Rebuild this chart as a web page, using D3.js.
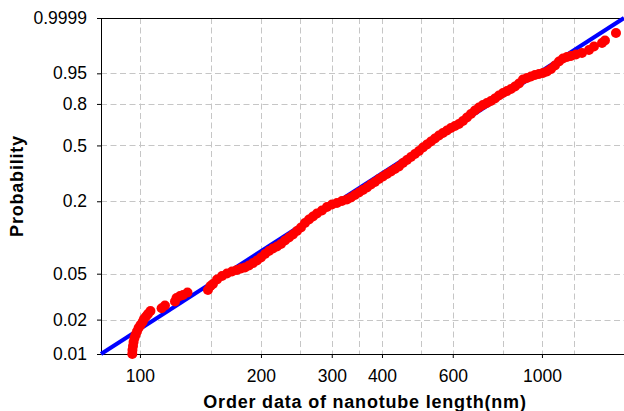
<!DOCTYPE html>
<html>
<head>
<meta charset="utf-8">
<script src="https://cdn.jsdelivr.net/npm/d3@7"></script>
<style>
    body { margin: 0; background: #fff; }
    text { font-family: "Liberation Sans", Arial, Helvetica, sans-serif; }
</style>
</head>
<body>
<svg id="svg-chart"></svg>
<script>
// 数据：长度(nm) 与 累积概率
var lengths = [
    95.7, 95.8, 96.1, 96.4, 96.9, 97.5, 98.3, 99.2, 100.3, 101.5, 102.3, 103.5, 104.7, 106.2,
    113.2, 115.4, 122.2, 123.3, 125.8, 128.0, 131.3, 147.6, 149.8,
    151.9, 155.5, 160.0, 164.6, 169.4, 174.3, 178.4, 182.5, 186.7, 191.1,
    195.5, 200.0, 204.7, 209.4, 214.2, 219.2, 224.3, 229.5, 234.8, 240.2,
    245.8, 251.5, 257.3, 263.3, 269.4, 275.6, 283.6, 291.9, 300.4, 309.1,
    318.1, 327.3, 334.9, 342.6, 350.6, 358.7, 367.0, 375.5, 384.2, 393.1,
    402.2, 411.5, 421.1, 430.8, 440.8, 451.0, 461.5, 472.2, 483.1, 494.3,
    505.8, 517.5, 529.5, 541.7, 554.3, 567.1, 580.3, 593.7, 607.5, 621.5,
    635.9, 650.7, 665.7, 681.2, 696.9, 713.1, 729.6, 746.5, 763.8, 781.5,
    800.0, 818.6, 837.5, 856.9, 876.8, 897.1, 917.9, 939.1, 960.9, 983.1,
    1005.9, 1029.2, 1053.1, 1077.5, 1102.4, 1128.0, 1154.1, 1180.9,
    1215.2, 1257.7, 1309.2, 1347.3, 1410.5, 1434.9, 1528.1
]
var probs = [
    0.0100, 0.01084, 0.01175, 0.01274, 0.01381, 0.01467, 0.01574, 0.01689, 0.01794, 0.01906, 0.02025, 0.02129, 0.02238, 0.02377,
    0.02509, 0.02654, 0.02875, 0.03084, 0.03210, 0.03274, 0.03441, 0.03618, 0.03918,
    0.04076, 0.04457, 0.04778, 0.05020, 0.05222, 0.05380, 0.05541, 0.05651, 0.05879, 0.06175,
    0.06486, 0.06879, 0.07366, 0.07810, 0.08199, 0.08524, 0.08947, 0.09574, 0.10144, 0.10744,
    0.11489, 0.12281, 0.13373, 0.14284, 0.15110, 0.15979, 0.16892, 0.18017, 0.18863, 0.19388,
    0.20104, 0.20650, 0.21405, 0.22386, 0.23409, 0.24459, 0.25554, 0.26919, 0.28106, 0.29583,
    0.30858, 0.32171, 0.33529, 0.34923, 0.36367, 0.38447, 0.40294, 0.42197, 0.44151, 0.46156,
    0.48555, 0.50660, 0.52801, 0.54975, 0.57175, 0.59024, 0.60884, 0.62750, 0.64243, 0.65735,
    0.67964, 0.70539, 0.73075, 0.75553, 0.77623, 0.79303, 0.80610, 0.81885, 0.83425, 0.85193,
    0.86595, 0.87666, 0.88689, 0.89903, 0.91255, 0.92885, 0.93442, 0.93972, 0.94475, 0.94793,
    0.95099, 0.95536, 0.96203, 0.97016, 0.97783, 0.98254, 0.98459, 0.98586,
    0.98760, 0.98917, 0.99186, 0.99429, 0.99610, 0.99707, 0.99888
]
// 拟合直线两端
var fit_length = [80, 1600]
var fit_prob = [0.01, 0.9999]
// 刻度
var x_ticks = [100, 200, 300, 400, 600, 1000]
var x_grid = [100, 150, 200, 250, 300, 350, 400, 500, 600, 800, 1000, 1200]
var p_ticks = [0.01, 0.02, 0.05, 0.2, 0.5, 0.8, 0.95, 0.9999]
var p_labels = ["0.01", "0.02", "0.05", "0.2", "0.5", "0.8", "0.95", "0.9999"]
var p_grid = [0.02, 0.05, 0.2, 0.5, 0.8, 0.95]

var width = 624,
    height = 411
var plot_left = 101, plot_right = 624, plot_top = 18, plot_bottom = 354

var svg_chart = d3.select("#svg-chart")
    .attr("width", width)
    .attr("height", height)

// Weibull 概率变换
function wbl(p) {
    return Math.log(-Math.log(1 - p))
}

var x = d3.scaleLog().domain([80, 1600]).range([plot_left, plot_right])
var y = d3.scaleLinear().domain([wbl(0.01), wbl(0.9999)]).range([plot_bottom, plot_top])

// 网格
var grid = svg_chart.append("g")
    .attr("stroke", "#c6c6c6")
    .attr("stroke-width", 1)
    .attr("stroke-dasharray", "6,3.5")
grid.selectAll(".vx")
    .data(x_grid)
    .enter().append("line")
    .attr("class", "vx")
    .attr("x1", function (d) { return Math.round(x(d)) + 0.5 })
    .attr("x2", function (d) { return Math.round(x(d)) + 0.5 })
    .attr("y1", plot_top)
    .attr("y2", plot_bottom)
grid.selectAll(".hy")
    .data(p_grid)
    .enter().append("line")
    .attr("class", "hy")
    .attr("x1", plot_left)
    .attr("x2", plot_right)
    .attr("y1", function (d) { return Math.round(y(wbl(d))) + 0.5 })
    .attr("y2", function (d) { return Math.round(y(wbl(d))) + 0.5 })

// 坐标轴
svg_chart.append("g")
    .attr("transform", "translate(0," + plot_bottom + ")")
    .call(d3.axisBottom(x)
        .tickValues(x_ticks)
        .tickFormat(d3.format("d"))
        .tickSize(4)
        .tickSizeOuter(0)
        .tickPadding(12))
svg_chart.append("g")
    .attr("transform", "translate(" + plot_left + ",0)")
    .call(d3.axisLeft(y)
        .tickValues(p_ticks.map(wbl))
        .tickFormat(function (d, i) { return p_labels[i] })
        .tickSize(4)
        .tickSizeOuter(0)
        .tickPadding(10))
svg_chart.selectAll(".tick text")
    .attr("font-size", 17.5)
    .attr("font-family", "Liberation Sans, Arial, sans-serif")
    .attr("fill", "#000")
svg_chart.append("line")
    .attr("x1", plot_left)
    .attr("x2", plot_right)
    .attr("y1", plot_top + 0.5)
    .attr("y2", plot_top + 0.5)
    .attr("stroke", "#000")

// 拟合线
svg_chart.append("path")
    .datum(d3.range(fit_length.length))
    .attr("d", d3.line()
        .x(function (i) { return x(fit_length[i]) })
        .y(function (i) { return y(wbl(fit_prob[i])) }))
    .attr("stroke", "#0000ff")
    .attr("stroke-width", 4)
    .attr("fill", "none")

// 数据点
svg_chart.append("g")
    .selectAll("circle")
    .data(d3.range(lengths.length))
    .enter().append("circle")
    .attr("cx", function (i) { return x(lengths[i]) })
    .attr("cy", function (i) { return y(wbl(probs[i])) })
    .attr("r", 5)
    .attr("fill", "#ff0000")

// 标题
svg_chart.append("text")
    .attr("x", 365)
    .attr("y", 408)
    .attr("text-anchor", "middle")
    .attr("font-size", 18)
    .attr("font-weight", "bold")
    .attr("letter-spacing", 0.8)
    .text("Order data of nanotube length(nm)")
svg_chart.append("text")
    .attr("transform", "translate(23,186) rotate(-90)")
    .attr("text-anchor", "middle")
    .attr("font-size", 18)
    .attr("font-weight", "bold")
    .attr("letter-spacing", 0.8)
    .text("Probability")
</script>
</body>
</html>
